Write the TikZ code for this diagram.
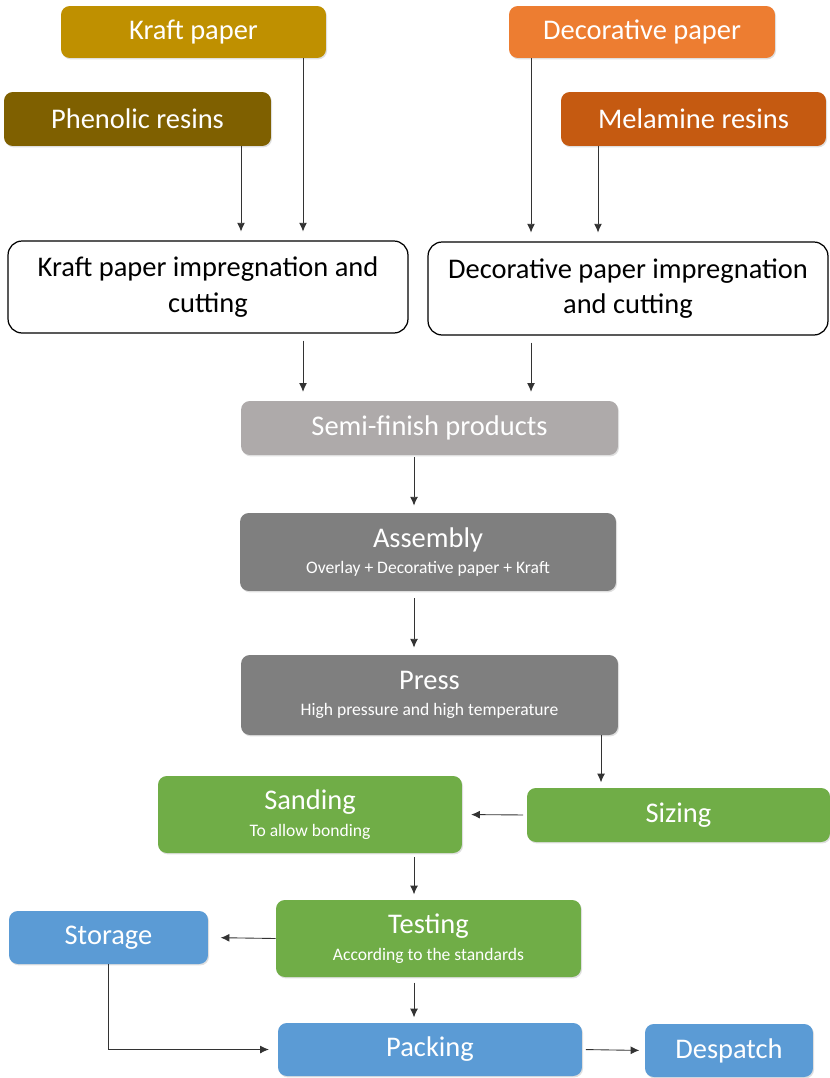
\documentclass[tikz,border=0pt]{standalone}
\usepackage{fontspec}
\setmainfont{Carlito}
\usetikzlibrary{arrows.meta,positioning,calc,shadows}

\definecolor{kraftc}{RGB}{191,144,0}
\definecolor{phenc}{RGB}{127,96,0}
\definecolor{decoc}{RGB}{237,125,49}
\definecolor{melac}{RGB}{197,90,17}
\definecolor{semic}{RGB}{174,170,170}
\definecolor{pressc}{RGB}{127,127,127}
\definecolor{greenc}{RGB}{112,173,71}
\definecolor{bluec}{RGB}{91,155,213}

\newcommand{\subline}[1]{{\fontsize{10}{11}\selectfont #1}}

\begin{document}
\begin{tikzpicture}[
  x=0.02cm, y=-0.02cm,
  font=\fontsize{16.2}{20}\selectfont,
  stepbox/.style={rounded corners=5pt, align=center, text=white, inner sep=2pt,
    drop shadow={shadow xshift=0.6pt, shadow yshift=-0.8pt, opacity=0.25}},
  labelbox/.style={draw, line width=0.7pt, rounded corners=8pt, align=center, fill=white, text=black},
  arrow/.style={-{Latex[length=5pt,width=4.5pt]}, draw=black!80, line width=0.5pt}
]
\useasboundingbox (0,0) rectangle (830,1078);

% raw materials
\node[stepbox, fill=kraftc, minimum width=5.3cm, minimum height=1.04cm] (kraft) at (193.5,32) {Kraft paper};
\node[stepbox, fill=phenc, minimum width=5.34cm, minimum height=1.08cm] (phenolic) at (137.5,119) {Phenolic resins};
\node[stepbox, fill=decoc, minimum width=5.32cm, minimum height=1.04cm] (decor) at (642,32) {Decorative paper};
\node[stepbox, fill=melac, minimum width=5.3cm, minimum height=1.08cm] (melamine) at (693.5,119) {Melamine resins};

% impregnation
\node[labelbox, minimum width=8cm, minimum height=1.84cm] (kimp) at (208,287)
  {Kraft paper impregnation and\\cutting};
\node[labelbox, minimum width=8cm, minimum height=1.86cm] (dimp) at (628,288.5)
  {Decorative paper impregnation\\and cutting};

% production line
\node[stepbox, fill=semic, minimum width=7.54cm, minimum height=1.08cm] (semi) at (429.5,428) {Semi-finish products};
\node[stepbox, fill=pressc, minimum width=7.52cm, minimum height=1.56cm] (assembly) at (428,552)
  {Assembly\\[-5pt]\subline{Overlay + Decorative paper + Kraft}};
\node[stepbox, fill=pressc, minimum width=7.54cm, minimum height=1.6cm] (press) at (429.5,695)
  {Press\\[-5pt]\subline{High pressure and high temperature}};
\node[stepbox, fill=greenc, minimum width=6.06cm, minimum height=1.08cm] (sizing) at (678.5,815) {Sizing};
\node[stepbox, fill=greenc, minimum width=6.08cm, minimum height=1.54cm] (sanding) at (310,814.5)
  {Sanding\\[-5pt]\subline{To allow bonding}};
\node[stepbox, fill=greenc, minimum width=6.1cm, minimum height=1.54cm] (testing) at (428.5,938.5)
  {Testing\\[-5pt]\subline{According to the standards}};
\node[stepbox, fill=bluec, minimum width=3.98cm, minimum height=1.06cm] (storage) at (108.5,937.5) {Storage};
\node[stepbox, fill=bluec, minimum width=6.08cm, minimum height=1.06cm] (packing) at (430,1049.5) {Packing};
\node[stepbox, fill=bluec, minimum width=3.36cm, minimum height=1.06cm] (despatch) at (729,1050.5) {Despatch};

% arrow lanes
\coordinate (xphen) at (241,0);
\coordinate (xkraft) at (303,0);
\coordinate (xdecor) at (531,0);
\coordinate (xmela) at (598,0);
\coordinate (xmid) at (414,0);
\coordinate (xpress) at (601,0);

\draw[arrow, shorten >=5pt] (phenolic.south -| xphen) -- (kimp.north -| xphen);
\draw[arrow, shorten >=5pt] (kraft.south -| xkraft) -- (kimp.north -| xkraft);
\draw[arrow, shorten >=5pt] (decor.south -| xdecor) -- (dimp.north -| xdecor);
\draw[arrow, shorten >=5pt] (melamine.south -| xmela) -- (dimp.north -| xmela);

\draw[arrow, shorten <=4pt, shorten >=5pt] (kimp.south -| xkraft) -- (semi.north -| xkraft);
\draw[arrow, shorten <=4pt, shorten >=5pt] (dimp.south -| xdecor) -- (semi.north -| xdecor);
\draw[arrow, shorten <=1pt, shorten >=4pt] (semi.south -| xmid) -- (assembly.north -| xmid);
\draw[arrow, shorten <=4pt, shorten >=4pt] (assembly.south -| xmid) -- (press.north -| xmid);
\draw[arrow, shorten >=3pt] (press.south -| xpress) -- (sizing.north -| xpress);
\draw[arrow, shorten <=2pt, shorten >=5pt] (sizing.west) -- (sanding.east);
\draw[arrow, shorten <=2pt, shorten >=3pt] (sanding.south -| xmid) -- (testing.north -| xmid);
\draw[arrow, shorten >=7pt] (testing.west) -- (storage.east);
\draw[arrow, shorten <=3pt, shorten >=3pt] (testing.south -| xmid) -- (packing.north -| xmid);
\draw[arrow, shorten >=5pt] (storage.south) |- (packing.west);
\draw[arrow, shorten <=2pt, shorten >=3pt] (packing.east) -- (despatch.west);

\end{tikzpicture}
\end{document}
